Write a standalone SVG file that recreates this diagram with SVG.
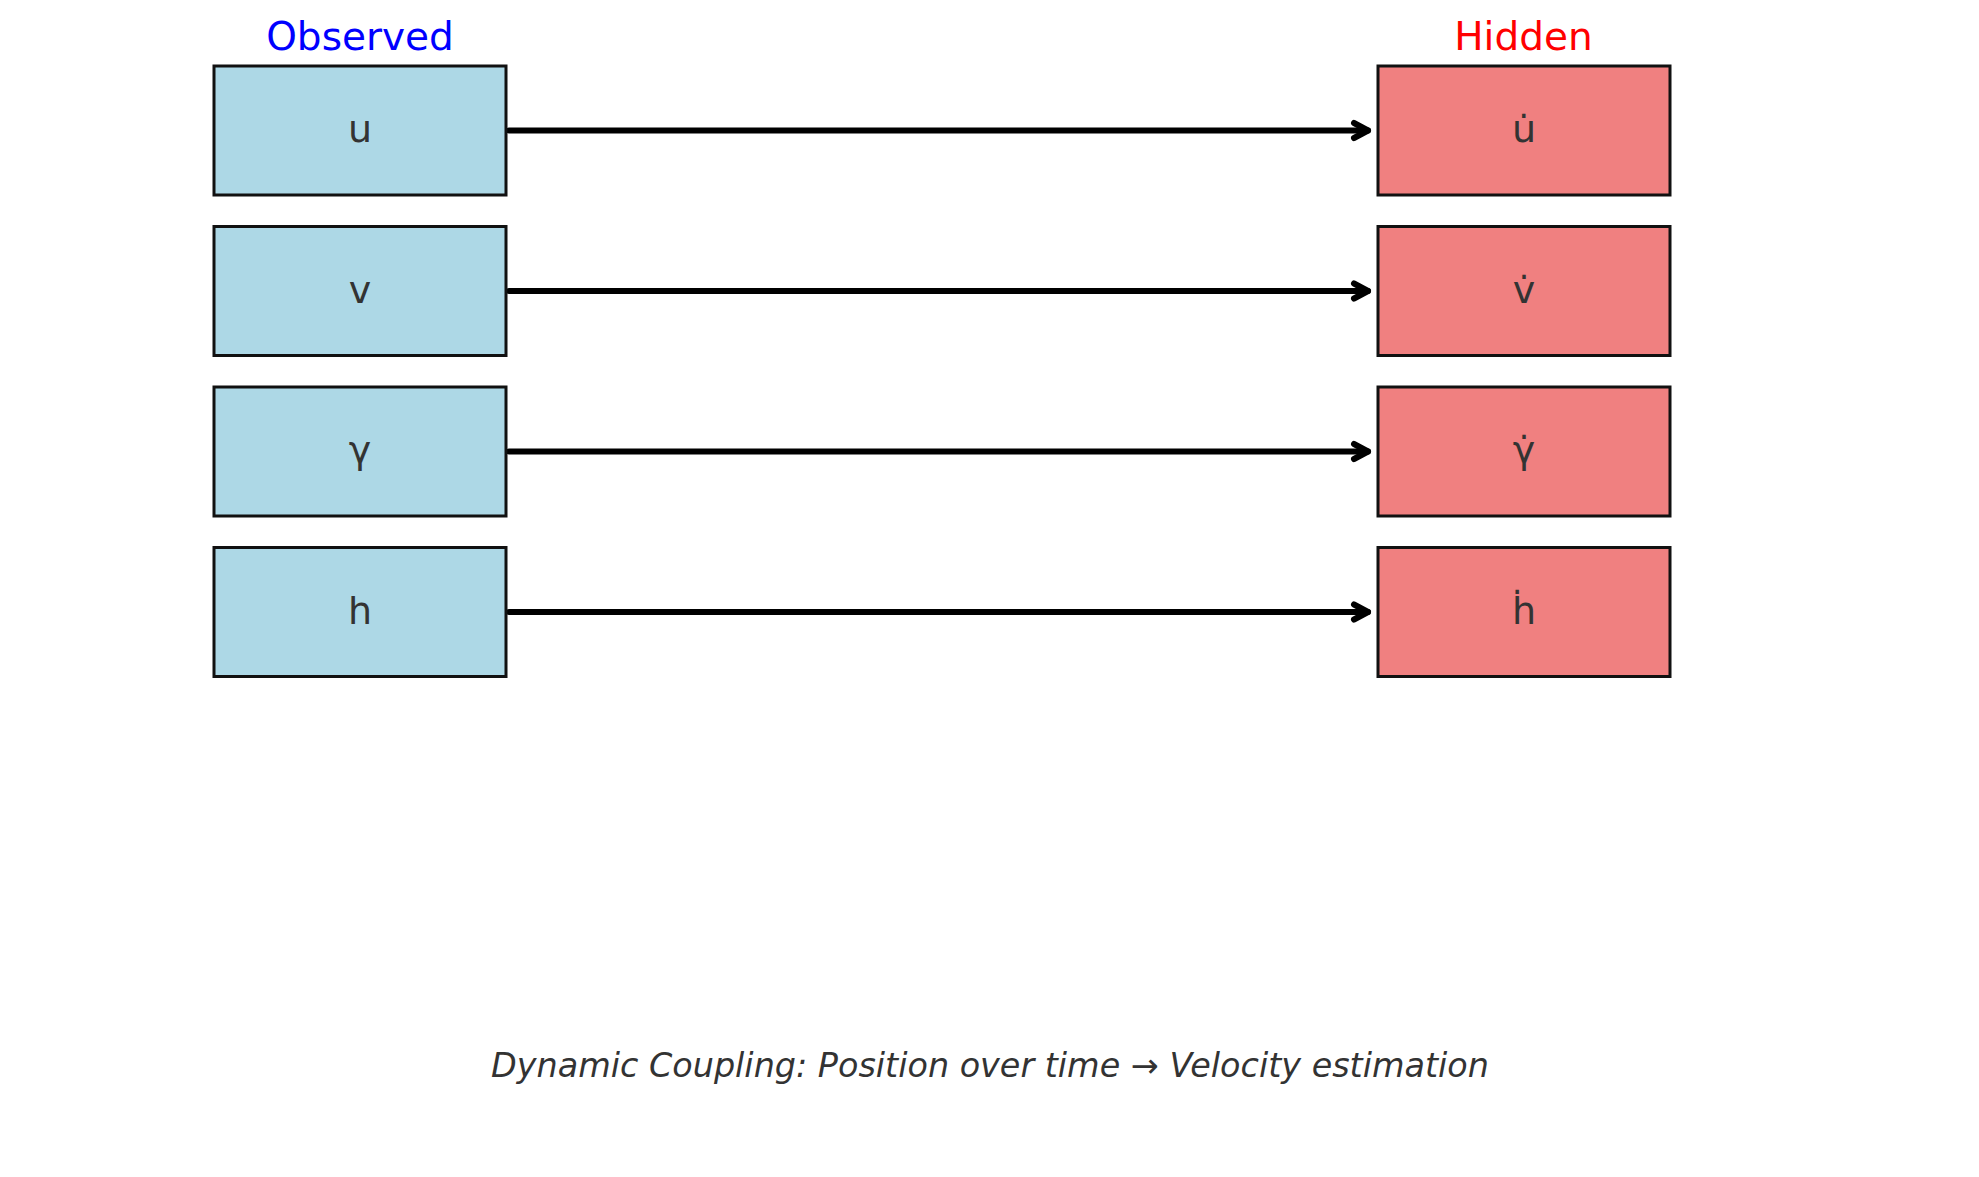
<svg xmlns="http://www.w3.org/2000/svg" width="1979" height="1177" viewBox="0 0 1979 1177">
<style>
.obs{fill:#ADD8E6;stroke:#111;stroke-width:3}
.hid{fill:#F08080;stroke:#111;stroke-width:3}
.lbl{font-family:"DejaVu Sans",sans-serif;font-size:38px;fill:#333;text-anchor:middle}
.ttl{font-family:"DejaVu Sans",sans-serif;font-size:39px;text-anchor:middle}
.cap{font-family:"DejaVu Sans",sans-serif;font-size:33.4px;font-style:italic;fill:#333;text-anchor:middle}
.conn{stroke:#000;stroke-width:6;stroke-linecap:round;fill:none}
</style>
<defs>
<marker id="ah" markerUnits="userSpaceOnUse" viewBox="-20 -12 24 24" markerWidth="24" markerHeight="24" refX="0" refY="0" orient="auto">
<path d="M-14,-7.5 L0,0 L-14,7.5" fill="none" stroke="#000" stroke-width="6" stroke-linecap="round" stroke-linejoin="round"/>
</marker>
</defs>
<rect width="1979" height="1177" fill="#fff"/>
<text class="ttl" x="360" y="50" fill="#0000FF">Observed</text>
<text class="ttl" x="1523.5" y="50" fill="#FF0000">Hidden</text>
<g id="connectors">
<path class="conn" d="M509,130.5 H1368" marker-end="url(#ah)"/>
<path class="conn" d="M509,291 H1368" marker-end="url(#ah)"/>
<path class="conn" d="M509,451.5 H1368" marker-end="url(#ah)"/>
<path class="conn" d="M509,612 H1368" marker-end="url(#ah)"/>
</g>
<g id="obs-u"><rect class="obs" x="214" y="66" width="292" height="129"/><text class="lbl" x="360" y="142">u</text></g>
<g id="obs-v"><rect class="obs" x="214" y="226.5" width="292" height="129"/><text class="lbl" x="360" y="302.5">v</text></g>
<g id="obs-gamma"><rect class="obs" x="214" y="387" width="292" height="129"/><text class="lbl" x="360" y="463">γ</text></g>
<g id="obs-h"><rect class="obs" x="214" y="547.5" width="292" height="129"/><text class="lbl" x="360" y="623.5">h</text></g>
<g id="hid-u"><rect class="hid" x="1378" y="66" width="292" height="129"/><text class="lbl" x="1524" y="142">u̇</text></g>
<g id="hid-v"><rect class="hid" x="1378" y="226.5" width="292" height="129"/><text class="lbl" x="1524" y="302.5">v̇</text></g>
<g id="hid-gamma"><rect class="hid" x="1378" y="387" width="292" height="129"/><text class="lbl" x="1524" y="463">γ̇</text></g>
<g id="hid-h"><rect class="hid" x="1378" y="547.5" width="292" height="129"/><text class="lbl" x="1524" y="623.5">ḣ</text></g>
<text class="cap" x="990" y="1077">Dynamic Coupling: Position over time → Velocity estimation</text>
</svg>
